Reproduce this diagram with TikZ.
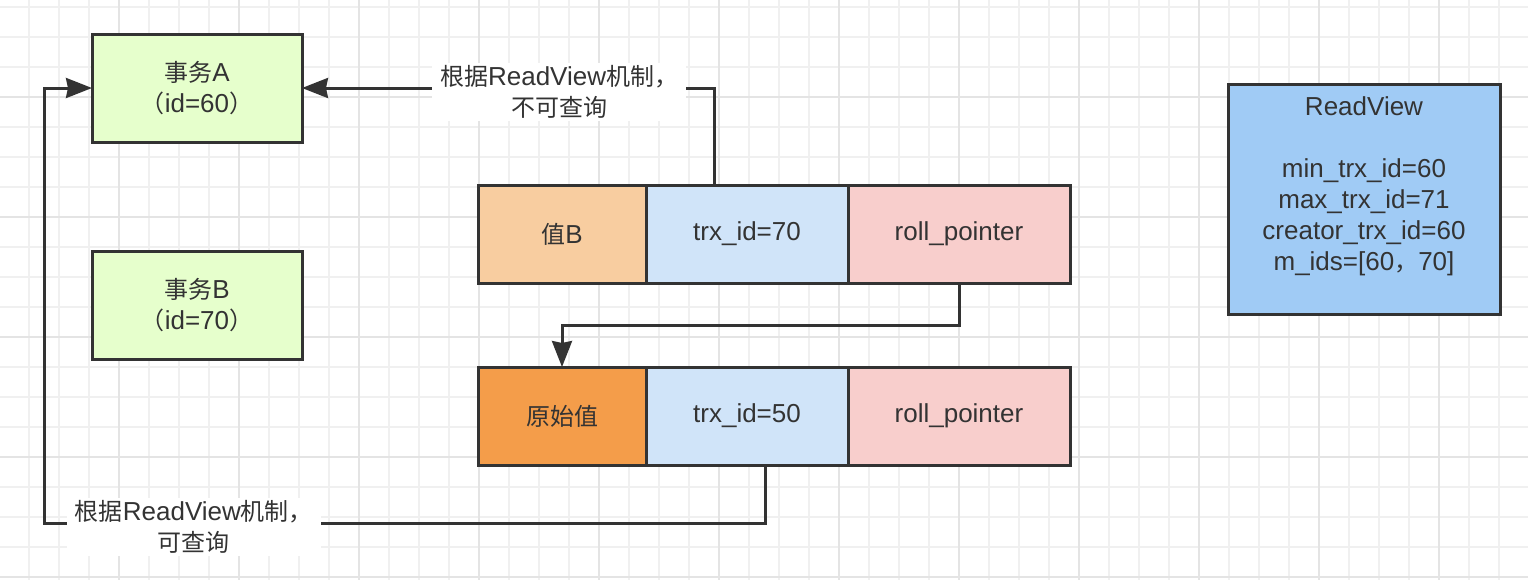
\documentclass[tikz,border=0pt]{standalone}
\usepackage{fontspec}
\setmainfont{Liberation Sans}
\newfontfamily\cjk{Noto Sans CJK SC}
\newcommand\zh[1]{{\cjk\fontsize{12}{15.5}\selectfont #1}}
\usetikzlibrary{calc,
arrows.meta,
positioning}
\definecolor{ink}{HTML}{333333}
\definecolor{txfill}{HTML}{E6FFCC}
\definecolor{valfill}{HTML}{F8CDA0}
\definecolor{origfill}{HTML}{F49D4A}
\definecolor{idfill}{HTML}{D0E4F9}
\definecolor{ptrfill}{HTML}{F8CECC}
\definecolor{rvfill}{HTML}{A0CBF5}
\definecolor{gridminor}{HTML}{F0F0F0}
\definecolor{gridmajor}{HTML}{E4E4E4}

\begin{document}
\begin{tikzpicture}[
  x=0.5pt, y=-0.5pt,
  every node/.style={font=\fontsize{13}{15.5}\selectfont, text=ink},
  box/.style={draw=ink, line width=1.5pt, outer sep=0pt, inner sep=0pt, align=center},
  conn/.style={draw=ink, line width=1.5pt, -{Stealth[length=13pt,width=10pt,inset=1pt]}},
  lbl/.style={fill=white, align=center, inner xsep=4pt, inner ysep=1pt, yshift=-2pt}
]

  \useasboundingbox (0,0) rectangle (1528,580);
  \fill [white] (0,0) rectangle (1528,580);

% grid
\foreach \gx in {29,59,...,1528} {
  \draw [gridminor, line width=1pt] (\gx,0) -- (\gx,580);
}
\foreach \gy in {7,37,...,580} {
  \draw [gridminor, line width=1pt] (0,\gy) -- (1528,\gy);
}
\foreach \gx in {119,239,...,1528} {
  \draw [gridmajor, line width=1pt] (\gx,0) -- (\gx,580);
}
\foreach \gy in {97,217,...,580} {
  \draw [gridmajor, line width=1pt] (0,\gy) -- (1528,\gy);
}

  \node [
    box,
    fill=txfill,
    minimum width = 105pt,
    minimum height = 54pt] (txA) at (197,88) {\zh{事务}A\\\zh{（}id=60\zh{）}};
  \node [
    box,
    fill=txfill,
    minimum width = 105pt,
    minimum height = 54pt,
    below = 54.5pt of txA
  ] (txB) {\zh{事务}B\\\zh{（}id=70\zh{）}};

  \node [
    box,
    fill=valfill,
    minimum width = 84pt,
    minimum height = 49pt] (val70) at (562,234) {\zh{值}B};
  \node [
    box,
    fill=idfill,
    minimum width = 101pt,
    minimum height = 49pt,
    right = 0pt of val70
  ] (trx70) {trx\_id=70};
  \node [
    box,
    fill=ptrfill,
    minimum width = 111pt,
    minimum height = 49pt,
    right = 0pt of trx70
  ] (ptr70) {roll\_pointer};

  \node [
    box,
    fill=origfill,
    minimum width = 84pt,
    minimum height = 49pt,
    below = 42pt of val70
  ] (val50) {\zh{原始值}};
  \node [
    box,
    fill=idfill,
    minimum width = 101pt,
    minimum height = 49pt,
    right = 0pt of val50
  ] (trx50) {trx\_id=50};
  \node [
    box,
    fill=ptrfill,
    minimum width = 111pt,
    minimum height = 49pt,
    right = 0pt of trx50
  ] (ptr50) {roll\_pointer};

  \node [
    box,
    fill=rvfill,
    minimum width = 136pt,
    minimum height = 115pt] (rv) at (1364,199)
    {ReadView\\ \mbox{}\\ min\_trx\_id=60\\ max\_trx\_id=71\\ creator\_trx\_id=60\\ m\_ids=[60\zh{，}70]\\ \mbox{}};

% connectors
\coordinate (up70) at ([xshift=34pt]trx70.north west);
\coordinate (dn50) at ([xshift=59.5pt]trx50.south west);
\coordinate (back) at (44,523);

\draw [conn] (up70) |- (txA.east)
  node [lbl, pos=0.688] {\zh{根据}ReadView\zh{机制，}\\\zh{不可查询}};
\draw [conn] (dn50) |- (back)
  node [lbl, pos=0.896] {\zh{根据}ReadView\zh{机制，}\\\zh{可查询}}
  |- (txA.west);
\draw [conn] (ptr70.south) -- ++(0,42) -| (val50.north);

\end{tikzpicture}
\end{document}
